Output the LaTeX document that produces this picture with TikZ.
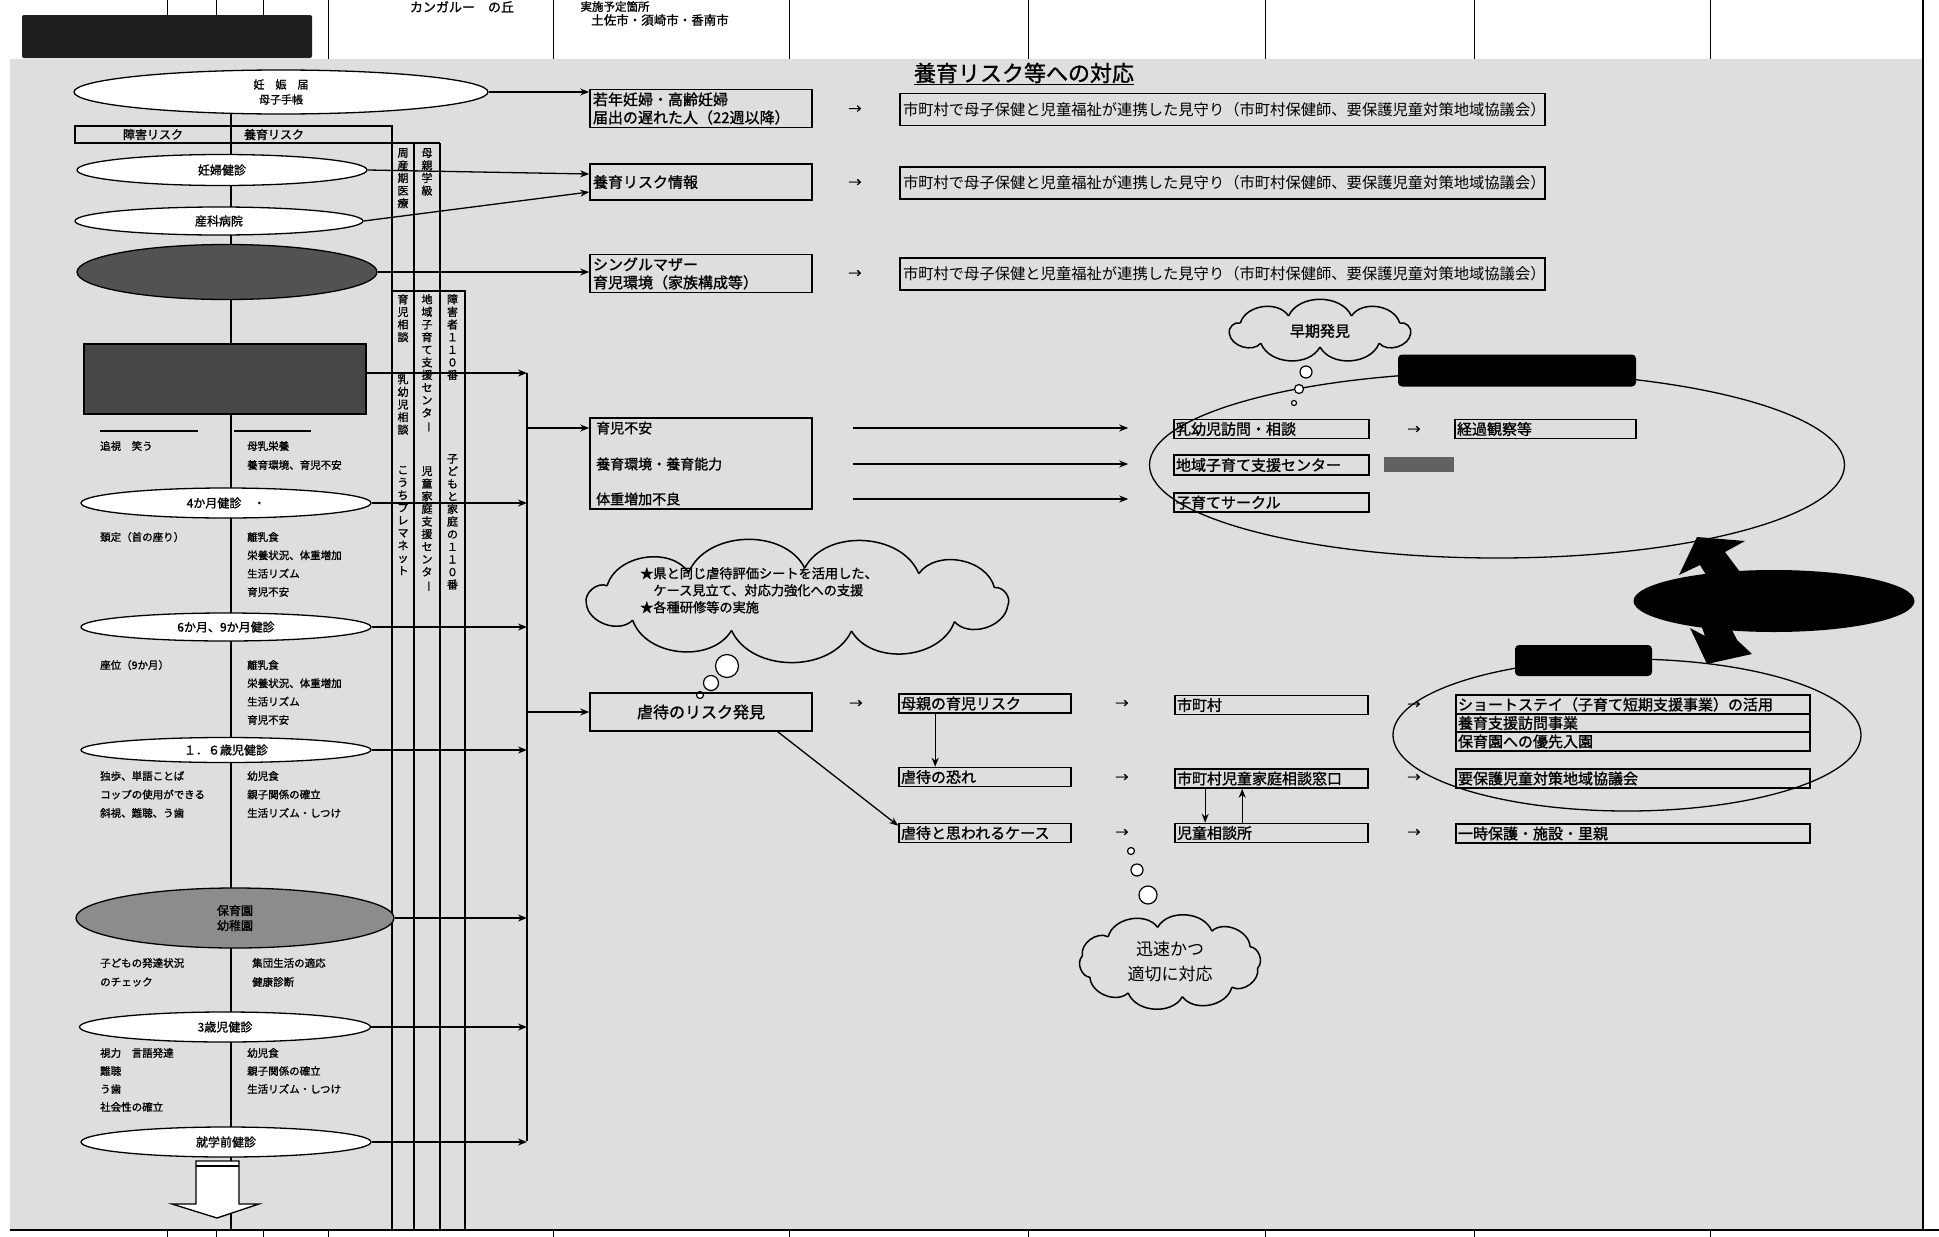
\documentclass[tikz,border=0pt]{standalone}
\usepackage{fontspec}
\setmainfont{Noto Sans CJK JP}[AutoFakeBold=1.2]
\usetikzlibrary{arrows.meta,positioning,shapes.geometric,calc}
\definecolor{scangray}{gray}{0.87}
\newcommand{\fs}[2]{\fontsize{#1}{#2}\selectfont}
\newcommand{\vbar}{\rotatebox[origin=c]{-90}{ー}}
% cloud outline: centre x, centre y, half width, half height, puffs
\newcommand{\puffcloud}[5]{%
  \pgfmathsetmacro\pstep{360/#5}
  \foreach \k in {1,...,#5} {
    \pgfmathsetmacro\ta{10+(\k-1)*\pstep}
    \pgfmathsetmacro\tb{10+\k*\pstep}
    \draw[line width=1.5pt] ({#1+#3*cos(\ta)},{#2+#4*sin(\ta)})
        to[bend left=65] ({#1+#3*cos(\tb)},{#2+#4*sin(\tb)});
  }}

\begin{document}
\begin{tikzpicture}[x=1pt, y=-1pt,
    oval/.style={ellipse, draw, fill=white, line width=1.3pt, inner sep=0pt,
                 align=center, font=\bfseries\fs{12}{15}},
    darkoval/.style={ellipse, draw, fill=#1, line width=1.3pt, inner sep=0pt,
                 align=center, font=\bfseries\fs{12}{15}},
    riskbox/.style={rectangle, draw, line width=1.6pt, inner sep=3pt, align=left,
                 text width=216pt, font=\bfseries\fs{15}{18}},
    wardbox/.style={rectangle, draw, line width=1.6pt, inner xsep=3pt, inner ysep=0pt,
                 minimum height=32pt, align=left, text width=639pt, font=\fs{15.3}{17}},
    flowbox/.style={rectangle, draw, line width=1.6pt, inner xsep=2pt, inner ysep=0pt,
                 minimum height=19pt, align=left, text width=#1pt, font=\bfseries\fs{15}{16}},
    note/.style={anchor=west, inner sep=0pt, font=\bfseries\fs{10.5}{12}},
    coltext/.style={anchor=north, inner sep=0pt, align=center, font=\bfseries\fs{11}{12.6}},
    arrowtxt/.style={inner sep=0pt, font=\bfseries\fs{13}{14}},
    arrow/.style={-{Stealth[length=9pt,width=7pt]}, line width=1.3pt},
    thought/.style={circle, draw, fill=white, line width=1.2pt, inner sep=0pt, minimum size=#1},
    blackbox/.style={rectangle, rounded corners=4pt, fill=black, inner sep=0pt},
]
    \useasboundingbox (0,0) rectangle (1939,1237);
    \clip (0,0) rectangle (1939,1237);

    % scanned sheet
    \fill[scangray] (10,59) rectangle (1923,1230);

    % header strip of the page
    \node[blackbox, rounded corners=2pt, fill=black!88, minimum width=290pt, minimum height=43pt]
        (topbox) at (167,36.5) {};
    \foreach \xx in {167,216,263}
        \draw[line width=1pt] (\xx,0) -- (\xx,15);
    \foreach \xx in {328,553,789,1028,1265,1474,1710}
        \draw[line width=1pt] (\xx,0) -- (\xx,59);
    \draw[line width=1.3pt] (1923,0) -- (1923,1230);
    \node[anchor=north, inner sep=0pt, font=\bfseries\fs{13}{14}] (kangaroo) at (462,1) {カンガルー　の丘};
    \node[anchor=north, inner sep=0pt, font=\bfseries\fs{11.5}{12}] (jisshi) at (615,1) {実施予定箇所};
    \node[font=\bfseries\fs{12.5}{13}] (site) at (660,20) {土佐市・須崎市・香南市};

    % bottom edge
    \draw[line width=1.3pt] (10,1230) -- (1939,1230);
    \foreach \xx in {167,216,263,328,553,789,1028,1265,1474,1710}
        \draw[line width=1pt] (\xx,1230) -- (\xx,1237);

    % left column: spine and service columns
    \draw[line width=1.1pt] (231,100) -- (231,1230);
    \draw[line width=1.2pt] (392,126) -- (392,1230);
    \draw[line width=1.2pt] (392,143) -- (440,143);
    \draw[line width=1.2pt] (414,143) -- (414,1230);
    \draw[line width=1.2pt] (440,143) -- (440,1230);
    \draw[line width=1.2pt] (392,291) -- (465,291) -- (465,1230);

    \node[coltext] (shusanki) at (403,148) {周\\産\\期\\医\\療};
    \node[coltext] (boshigk) at (427,148) {母\\親\\学\\級};
    \node[coltext] (ikujisodan) at (403,294) {育\\児\\相\\談};
    \node[coltext] (nyusodan) at (403,374) {乳\\幼\\児\\相\\談};
    \node[coltext] (premanet) at (403,466) {こ\\う\\ち\\プ\\レ\\マ\\ネ\\ッ\\ト};
    \node[coltext] (chiikictr) at (427,294) {地\\域\\子\\育\\て\\支\\援\\セ\\ン\\タ\\\vbar};
    \node[coltext] (jidoctr) at (427,466) {児\\童\\家\\庭\\支\\援\\セ\\ン\\タ\\\vbar};
    \node[coltext] (shogai110) at (452.5,294) {障\\害\\者\\１\\１\\０\\番};
    \node[coltext] (kodomo110) at (452.5,454) {子\\ど\\も\\と\\家\\庭\\の\\１\\１\\０\\番};

    % left column: check-ups
    \node[oval, minimum width=414pt, minimum height=44pt, font=\bfseries\fs{11}{15}]
        (ninshin) at (281,92) {妊　娠　届\\母子手帳};
    \node[draw, line width=1.3pt, minimum width=317pt, minimum height=17pt, inner sep=0pt]
        (riskrow) at (233.5,134.5) {};
    \node[font=\bfseries\fs{12}{13}] (shogairisk) at (153,134.5) {障害リスク};
    \node[font=\bfseries\fs{12}{13}] (yoikurisk) at (274,134.5) {養育リスク};
    \draw[line width=1.1pt] (231,126) -- (231,143);

    \node[oval, minimum width=290pt, minimum height=31pt] (kenshin) at (222,170) {妊婦健診};
    \node[oval, minimum width=288pt, minimum height=28pt] (sanka) at (219,221) {産科病院};
    \node[darkoval=black!68, minimum width=300pt, minimum height=55pt] (darkA) at (227,272) {};
    \node[rectangle, draw, fill=black!72, line width=1.3pt, minimum width=282pt, minimum height=70pt]
        (darkrect) at (225,379) {};
    \draw[line width=1.2pt] (100,431) -- (198,431);
    \draw[line width=1.2pt] (234,431) -- (311,431);
    \node[note] (tsuishi) at (100,446) {追視　笑う};
    \node[note] (bonyu) at (247,446) {母乳栄養};
    \node[note] (kankyo) at (247,465) {養育環境、育児不安};

    \node[oval, minimum width=290pt, minimum height=30pt] (four) at (226,503) {4か月健診　・};
    \node[note] (keitei) at (100,537) {頚定（首の座り）};
    \foreach \txt [count=\i] in {離乳食,栄養状況、体重増加,生活リズム,育児不安}
        \node[note] (fourR\i) at (247,{537+18.3*(\i-1)}) {\txt};

    \node[oval, minimum width=290pt, minimum height=28pt] (sixnine) at (226,627) {6か月、9か月健診};
    \node[note] (zai) at (100,665) {座位（9か月）};
    \foreach \txt [count=\i] in {離乳食,栄養状況、体重増加,生活リズム,育児不安}
        \node[note] (sixR\i) at (247,{665+18.3*(\i-1)}) {\txt};

    \node[oval, minimum width=290pt, minimum height=25pt] (onesix) at (226,750) {１．６歳児健診};
    \foreach \txt [count=\i] in {独歩、単語ことば,コップの使用ができる,斜視、難聴、う歯}
        \node[note] (oneL\i) at (100,{776+18.5*(\i-1)}) {\txt};
    \foreach \txt [count=\i] in {幼児食,親子関係の確立,生活リズム・しつけ}
        \node[note] (oneR\i) at (247,{776+18.5*(\i-1)}) {\txt};

    \node[darkoval=black!45, minimum width=318pt, minimum height=60pt] (hoikuen) at (235,918)
        {保育園\\幼稚園};
    \node[note] (hattatsu) at (100,963) {子どもの発達状況};
    \node[note] (check) at (100,982) {のチェック};
    \node[note] (shudan) at (252,963) {集団生活の適応};
    \node[note] (kenko) at (252,982) {健康診断};

    \node[oval, minimum width=291pt, minimum height=30pt] (three) at (225,1027) {3歳児健診};
    \foreach \txt [count=\i] in {視力　言語発達,難聴,う歯,社会性の確立}
        \node[note] (threeL\i) at (100,{1053+18*(\i-1)}) {\txt};
    \foreach \txt [count=\i] in {幼児食,親子関係の確立,生活リズム・しつけ}
        \node[note] (threeR\i) at (247,{1053+18*(\i-1)}) {\txt};

    \node[oval, minimum width=290pt, minimum height=30pt] (shugaku) at (226,1142) {就学前健診};

    % big arrow to school age
    \draw[line width=1.3pt, fill=white, line join=miter]
        (196,1161) -- (239,1161) -- (239,1204) -- (259,1204) -- (217,1218)
        -- (172,1204) -- (196,1204) -- cycle;
    \draw[line width=1.1pt] (196,1166) -- (239,1166);

    % collecting bus
    \coordinate (bustop) at (527,373);
    \coordinate (busbot) at (527,1141);
    \draw[line width=2pt] (bustop) -- (busbot);
    \draw[arrow] ([yshift=6pt]darkrect.east) -- (bustop);
    \foreach \src in {four,sixnine,onesix,hoikuen,three,shugaku}
        \draw[arrow] (\src.east) -- (\src.east -| bustop);

    % title
    \node[font=\bfseries\fs{22}{24}] (title) at (1024,74) {\underline{養育リスク等への対応}};

    % pregnancy risks
    \node[riskbox, minimum height=37pt] (jakunen) at (701,108.5)
        {若年妊婦・高齢妊婦\\届出の遅れた人（22週以降）};
    \node[riskbox, minimum height=36pt] (ykjoho) at (701,182) {養育リスク情報};
    \node[riskbox, minimum height=37pt] (single) at (701,273.5)
        {シングルマザー\\育児環境（家族構成等）};
    \draw[arrow] (ninshin.east) -- (ninshin.east -| jakunen.west);
    \draw[arrow] (kenshin.east) -- ([yshift=8pt]ykjoho.west);
    \draw[arrow] (sanka.east) -- ([yshift=-10pt]ykjoho.west);
    \draw[arrow] (darkA.east) -- (darkA.east -| single.west);

    \foreach \nm/\yy in {mimamoriA/109.5,mimamoriB/183,mimamoriC/274} {
        \node[arrowtxt] (to\nm) at (855,\yy) {→};
        \node[wardbox] (\nm) at (1222.5,\yy)
            {市町村で母子保健と児童福祉が連携した見守り（市町村保健師、要保護児童対策地域協議会）};
    }

    % child-rearing worries
    \node[draw, line width=1.6pt, minimum width=222pt, minimum height=91pt, inner sep=0pt]
        (ikujibox) at (701,463.5) {};
    \node[note, font=\bfseries\fs{14}{15}] (fuan) at (596,428) {育児不安};
    \node[note, font=\bfseries\fs{14}{15}] (noryoku) at (596,464) {養育環境・養育能力};
    \node[note, font=\bfseries\fs{14}{15}] (taiju) at (596,499) {体重増加不良};
    \draw[arrow] (bustop |- fuan) -- (ikujibox.west |- fuan);

    % early detection oval
    \node[ellipse, draw, line width=1.3pt, minimum width=695pt, minimum height=186pt]
        (earlyoval) at (1497,465) {};
    \node[blackbox, minimum width=238pt, minimum height=32pt] (earlytag) at (1517,370.5) {};
    \node[flowbox=191] (nyuyoji) at (1271.5,429) {乳幼児訪問・相談};
    \node[flowbox=191, minimum height=20pt] (chiiki) at (1271.5,465) {地域子育て支援センター};
    \node[flowbox=191] (circle) at (1271.5,502.5) {子育てサークル};
    \node[arrowtxt] (tokeika) at (1414,430) {→};
    \node[flowbox=177] (keika) at (1545.5,429) {経過観察等};
    \node[rectangle, fill=black!62, minimum width=70pt, minimum height=15pt, inner sep=0pt]
        (chiikitag) at (1419,464.5) {};
    \foreach \src in {fuan,noryoku,taiju}
        \draw[arrow] ([xshift=40pt]ikujibox.east |- \src) -- ([xshift=-45pt]nyuyoji.west |- \src);

    \puffcloud{1320}{331}{92}{16}{9}
    \node[font=\bfseries\fs{15}{16}] (soki) at (1320,331) {早期発見};
    \node[thought=12pt] (sokiA) at (1306,372) {};
    \node[thought=9pt] (sokiB) at (1299,389) {};
    \node[thought=5pt] (sokiC) at (1294,403) {};

    % abuse risk
    \puffcloud{798}{600}{213}{32}{11}
    \node[anchor=north west, inner sep=0pt, align=left, font=\bfseries\fs{13.2}{17}]
        (hyoka) at (640,567)
        {★県と同じ虐待評価シートを活用した、\\\hspace*{1em}ケース見立て、対応力強化への支援\\★各種研修等の実施};
    \node[thought=23pt] (hyokaA) at (727,666) {};
    \node[thought=15pt] (hyokaB) at (711,683) {};
    \node[thought=7pt] (hyokaC) at (700,695) {};

    \node[draw, line width=1.6pt, minimum width=222pt, minimum height=38pt, inner sep=0pt,
          font=\bfseries\fs{16}{17}] (gyakutai) at (701,712) {虐待のリスク発見};
    \draw[arrow] (bustop |- gyakutai.west) -- (gyakutai.west);

    \node[arrowtxt] (tohaha) at (856,704) {→};
    \node[flowbox=168] (hahaoya) at (985,703.5) {母親の育児リスク};
    \node[flowbox=168] (osore) at (985,777) {虐待の恐れ};
    \node[flowbox=168] (case) at (985,833) {虐待と思われるケース};
    \draw[arrow] ([xshift=37pt]hahaoya.south west) -- ([xshift=37pt]osore.north west);
    \draw[arrow] ([xshift=-35pt]gyakutai.south east) -- ([yshift=-3pt]case.north west);

    \foreach \yy [count=\i] in {704,778,833}
        \node[arrowtxt] (toshi\i) at (1122,\yy) {→};
    \node[flowbox=189] (shichoson) at (1271.5,705) {市町村};
    \node[flowbox=189] (madoguchi) at (1271.5,778.5) {市町村児童家庭相談窓口};
    \node[flowbox=189] (jisodan) at (1271.5,833) {児童相談所};
    \draw[arrow] ([xshift=31pt]madoguchi.south west) -- ([xshift=31pt]jisodan.north west);
    \draw[arrow] ([xshift=68pt]jisodan.north west) -- ([xshift=68pt]madoguchi.south west);

    % support oval
    \node[ellipse, draw, line width=1.3pt, minimum width=468pt, minimum height=152pt]
        (supportoval) at (1627,735) {};
    \node[blackbox, minimum width=137pt, minimum height=31pt] (supporttag) at (1583.5,660.5) {};
    \foreach \yy [count=\i] in {705,778,833}
        \node[arrowtxt] (tosv\i) at (1414,\yy) {→};
    \node[flowbox=350] (short) at (1633,704.5) {ショートステイ（子育て短期支援事業）の活用};
    \node[flowbox=350, minimum height=18pt] (homon) at (1633,723) {養育支援訪問事業};
    \node[flowbox=350] (yusen) at (1633,741.5) {保育園への優先入園};
    \node[flowbox=350] (yohogo) at (1633,778.5) {要保護児童対策地域協議会};
    \node[flowbox=350] (ichiji) at (1633,833.5) {一時保護・施設・里親};

    % link between the two ovals
    \fill[black] (1697,537) -- (1745,541) -- (1725,552) -- (1740,572) -- (1708,578)
        -- (1700,565) -- (1679,575) -- cycle;
    \fill[black] (1707,664) -- (1690,628) -- (1705,636) -- (1700,622) -- (1730,626)
        -- (1737,640) -- (1752,654) -- cycle;
    \node[ellipse, fill=black, minimum width=281pt, minimum height=62pt, inner sep=0pt]
        (linkoval) at (1774,601) {};

    % quick response
    \puffcloud{1170}{962}{89}{35}{10}
    \node[align=center, font=\fs{17}{25}] (jinsoku) at (1170,962) {迅速かつ\\適切に対応};
    \node[thought=7pt] (jinsokuC) at (1131,851) {};
    \node[thought=12pt] (jinsokuB) at (1137,870) {};
    \node[thought=18pt] (jinsokuA) at (1148,895) {};
\end{tikzpicture}
\end{document}
